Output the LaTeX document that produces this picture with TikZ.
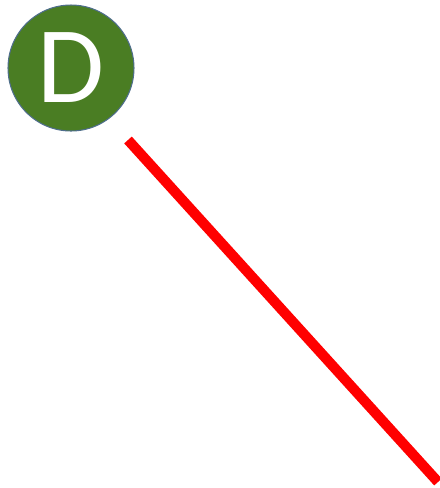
\documentclass[tikz,border=0pt]{standalone}
\usepackage{fontspec}
\setsansfont{Carlito}
\definecolor{dgreen}{HTML}{4A7D23}
\definecolor{dedge}{HTML}{4F6E8C}
\begin{document}
\begin{tikzpicture}[x=0.02cm, y=-0.02cm]
    \useasboundingbox (0,0) rectangle (440,488);

    \node[circle, fill=dgreen, draw=dedge, line width=0.6pt,
          minimum size=2.52cm, inner sep=0pt, text=white,
          font=\sffamily\fontsize{62}{62}\selectfont] (D) at (71,68) {\raisebox{-2pt}{D}};

    \coordinate (start) at (128,140);
    \coordinate (end) at (438,482);
    \draw[red, line width=5.8pt] (start) -- (end);
\end{tikzpicture}
\end{document}
